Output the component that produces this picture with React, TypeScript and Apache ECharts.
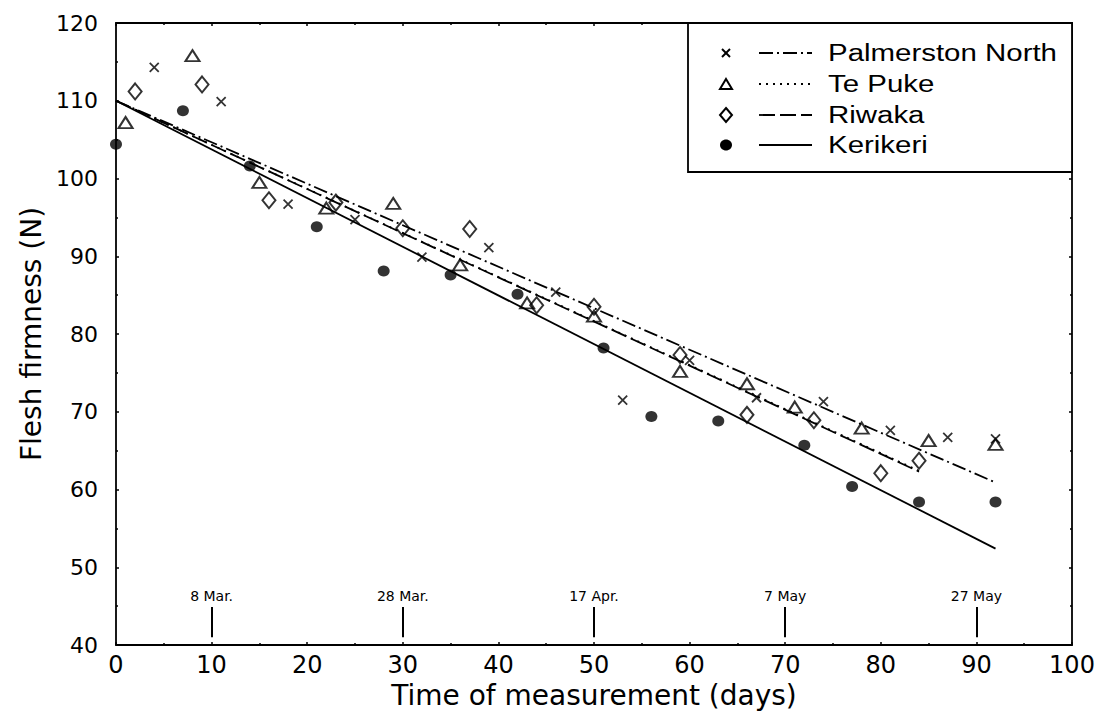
import React, { useEffect, useRef } from "react";
import * as echarts from "echarts";

// Palmerston North (×)
const pnDays = [4, 11, 18, 25, 32, 39, 46, 53, 60, 67, 74, 81, 87, 92];
const pnFirm = [114.3, 109.9, 96.7, 94.7, 89.9, 91.1, 85.4, 71.5, 76.6, 71.8, 71.3, 67.6, 66.7, 66.5];
// Te Puke (△)
const tpDays = [1, 8, 15, 22, 29, 36, 43, 50, 59, 66, 71, 78, 85, 92];
const tpFirm = [107.2, 115.8, 99.5, 96.2, 96.8, 88.9, 84.0, 82.3, 75.2, 73.6, 70.6, 67.9, 66.3, 65.8];
// Riwaka (◇)
const rwDays = [2, 9, 16, 23, 30, 37, 44, 50, 59, 66, 73, 80, 84];
const rwFirm = [111.2, 112.1, 97.2, 96.9, 93.6, 93.5, 83.7, 83.5, 77.3, 69.6, 68.9, 62.1, 63.7];
// Kerikeri (●)
const kkDays = [0, 7, 14, 21, 28, 35, 42, 51, 56, 63, 72, 77, 84, 92];
const kkFirm = [104.4, 108.7, 101.6, 93.8, 88.1, 87.6, 85.1, 78.2, 69.4, 68.8, 65.7, 60.4, 58.4, 58.4];

// Fitted regression lines: [startDay, startValue, endDay, endValue]
const pnFit = [0, 110, 92, 60.9];
const tpFit = [0, 110, 84, 62.4];
const rwFit = [0, 110, 84, 62.3];
const kkFit = [0, 110, 92, 52.4];

// Calendar markers
const dateDays = [10, 30, 50, 70, 90];
const dateLabels = ["8 Mar.", "28 Mar.", "17 Apr.", "7 May", "27 May"];
const dateTickLow = 41.0;
const dateTickHigh = 44.9;

const seriesNames = ["Palmerston North", "Te Puke", "Riwaka", "Kerikeri"];

const zip = (xs: number[], ys: number[]) => xs.map((x, i) => [x, ys[i]]);
const fitData = (f: number[]) => [
  [f[0], f[1]],
  [f[2], f[3]],
];

const FONT = "DejaVu Sans";
const XPATH = "path://M0,0L10,10M10,0L0,10";

export default function App() {
  const ref = useRef<HTMLDivElement>(null);

  useEffect(() => {
    document.body.style.margin = "0";
    const chart = echarts.init(ref.current!, null, { renderer: "svg" });

    const axisCommon = {
      min: 0,
      max: 100,
      interval: 10,
      axisLine: { show: true, onZero: false, lineStyle: { color: "#000", width: 1.8 } },
      axisTick: { show: true, inside: true, length: 3, lineStyle: { color: "#000", width: 1.5 } },
      minorTick: { show: true, splitNumber: 2, length: 2, lineStyle: { color: "#000", width: 1.5 } },
      splitLine: { show: false },
    };
    const yCommon = { ...axisCommon, min: 40, max: 120, interval: 10 };

    const legendRowsY = [53, 84, 115, 145];
    const mx = 726;
    const lx1 = 759;
    const lx2 = 812;
    const tx = 828;
    const dashes: any[] = [[14, 4, 2, 4], [2, 5], [16, 5], null];
    const legendEls: any[] = [
      {
        type: "rect",
        shape: { x: 688, y: 23, width: 384, height: 149 },
        style: { fill: "#fff", stroke: "#000", lineWidth: 1.8 },
        z: 10,
      },
    ];
    legendRowsY.forEach((y, i) => {
      if (i === 0) {
        legendEls.push({ type: "line", shape: { x1: mx - 4, y1: y - 4, x2: mx + 4, y2: y + 4 }, style: { stroke: "#000", lineWidth: 2 }, z: 11 });
        legendEls.push({ type: "line", shape: { x1: mx + 4, y1: y - 4, x2: mx - 4, y2: y + 4 }, style: { stroke: "#000", lineWidth: 2 }, z: 11 });
      } else if (i === 1) {
        legendEls.push({ type: "polygon", shape: { points: [[mx, y - 5], [mx + 6, y + 5], [mx - 6, y + 5]] }, style: { fill: "#fff", stroke: "#000", lineWidth: 2 }, z: 11 });
      } else if (i === 2) {
        legendEls.push({ type: "polygon", shape: { points: [[mx, y - 7], [mx + 6, y], [mx, y + 7], [mx - 6, y]] }, style: { fill: "#fff", stroke: "#000", lineWidth: 2 }, z: 11 });
      } else {
        legendEls.push({ type: "ellipse", shape: { cx: mx, cy: y, rx: 6, ry: 5.5 }, style: { fill: "#000" }, z: 11 });
      }
      legendEls.push({
        type: "line",
        shape: { x1: lx1, y1: y, x2: lx2, y2: y },
        style: { stroke: "#000", lineWidth: 1.8, lineDash: dashes[i] || undefined },
        z: 11,
      });
      legendEls.push({
        type: "text",
        x: tx,
        y: y,
        scaleX: 1.28,
        style: {
          text: seriesNames[i],
          fontFamily: "Liberation Sans",
          fontSize: 23,
          fill: "#000",
          verticalAlign: "middle",
          textAlign: "left",
        },
        z: 11,
      });
    });

    const lineSeries = (name: string, f: number[], type: any, z: number) => ({
      name: name + " fit",
      type: "line",
      data: fitData(f),
      showSymbol: false,
      symbol: "none",
      lineStyle: { color: "#000", width: 1.8, type },
      z,
    });

    chart.setOption({
      animation: false,
      backgroundColor: "#fff",
      grid: { left: 116, right: 34, top: 23, bottom: 72, containLabel: false },
      xAxis: [
        {
          ...axisCommon,
          type: "value",
          position: "bottom",
          name: "Time of measurement (days)",
          nameLocation: "middle",
          nameGap: 26,
          nameTextStyle: { fontFamily: FONT, fontSize: 28, color: "#000" },
          axisLabel: { fontFamily: FONT, fontSize: 24, color: "#000", margin: 8 },
        },
        {
          ...axisCommon,
          type: "value",
          position: "top",
          axisLabel: { show: false },
        },
      ],
      yAxis: [
        {
          ...yCommon,
          type: "value",
          position: "left",
          name: "Flesh firmness (N)",
          nameLocation: "middle",
          nameGap: 66,
          nameTextStyle: { fontFamily: FONT, fontSize: 28, color: "#000" },
          axisLabel: { fontFamily: FONT, fontSize: 22, color: "#000", margin: 18 },
        },
        {
          ...yCommon,
          type: "value",
          position: "right",
          axisLabel: { show: false },
        },
      ],
      graphic: legendEls,
      series: [
        lineSeries(seriesNames[1], tpFit, [2, 5], 2),
        lineSeries(seriesNames[0], pnFit, [14, 4, 2, 4], 3),
        lineSeries(seriesNames[2], rwFit, [16, 5], 3),
        lineSeries(seriesNames[3], kkFit, "solid", 3),
        {
          name: seriesNames[0],
          type: "scatter",
          data: zip(pnDays, pnFirm),
          symbol: XPATH,
          symbolSize: 9,
          itemStyle: { color: "none", borderColor: "#000", borderWidth: 1.8 },
          z: 5,
        },
        {
          name: seriesNames[1],
          type: "scatter",
          data: zip(tpDays, tpFirm),
          symbol: "triangle",
          symbolSize: [14, 11],
          itemStyle: { color: "rgba(255,255,255,0)", borderColor: "#000", borderWidth: 2 },
          z: 5,
        },
        {
          name: seriesNames[2],
          type: "scatter",
          data: zip(rwDays, rwFirm),
          symbol: "diamond",
          symbolSize: [13, 16],
          itemStyle: { color: "rgba(255,255,255,0)", borderColor: "#000", borderWidth: 2 },
          z: 5,
        },
        {
          name: seriesNames[3],
          type: "scatter",
          data: zip(kkDays, kkFirm),
          symbol: "circle",
          symbolSize: [12, 11],
          itemStyle: { color: "#000" },
          z: 5,
        },
        {
          name: "dates",
          type: "line",
          data: [],
          markLine: {
            silent: true,
            symbol: ["none", "none"],
            lineStyle: { color: "#000", width: 2, type: "solid" },
            label: {
              show: true,
              position: "end",
              distance: 4,
              fontFamily: FONT,
              fontSize: 14,
              color: "#000",
              formatter: (p: any) => p.name,
            },
            data: dateDays.map((d, i) => [
              { name: dateLabels[i], coord: [d, dateTickLow] },
              { coord: [d, dateTickHigh] },
            ]),
          },
        },
      ],
    });

    return () => chart.dispose();
  }, []);

  return <div ref={ref} style={{ width: 1106, height: 717 }} />;
}
